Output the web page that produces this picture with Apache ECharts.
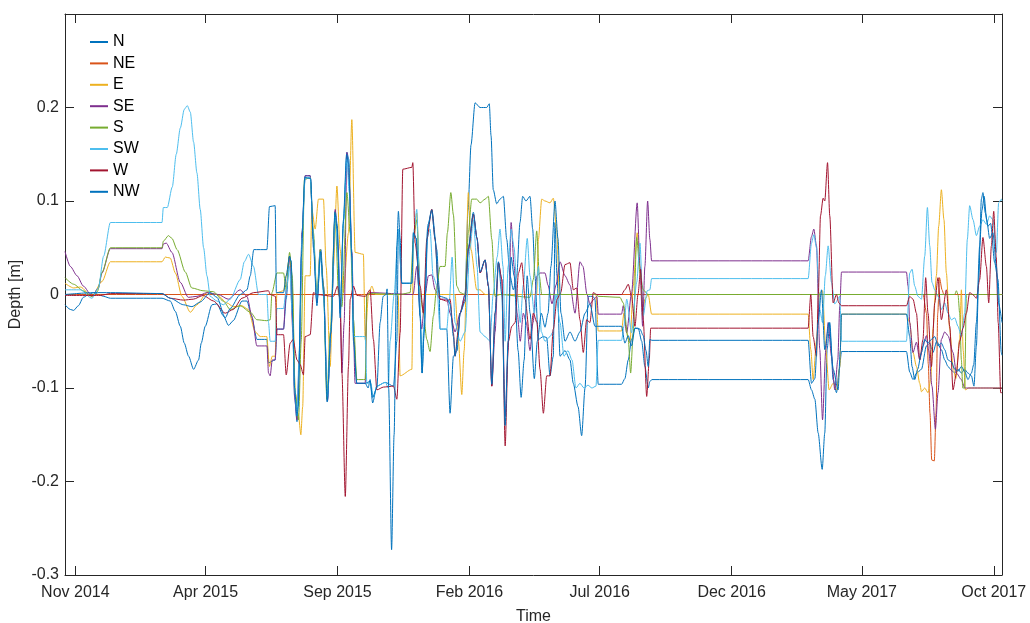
<!DOCTYPE html>
<html>
<head>
<meta charset="utf-8">
<script src="https://cdn.jsdelivr.net/npm/echarts@6/dist/echarts.min.js"></script>
<style>
  html, body { margin: 0; padding: 0; background: #fff; }
  #chart { width: 1030px; height: 623px; }
</style>
</head>
<body>
<div id="chart"></div>
<script>
// Water depth deviation per direction, [days since 2014-11-01, depth in m]
const depthN = [[-12,-0.011],[-5.8,-0.016],[-2,-0.017],[3.5,-0.012],[9.3,-0.003],[15.4,0.0],[21.2,0.002],[26.7,0.0],[32.8,-0.002],[40.6,-0.004],[100.5,-0.004],[110.1,-0.007],[115.9,-0.018],[121.7,-0.034],[126.3,-0.052],[131.3,-0.066],[137.1,-0.08],[142.9,-0.07],[146,-0.052],[150.6,-0.034],[158.4,-0.011],[164.2,-0.01],[171.8,-0.023],[177.6,-0.033],[183.1,-0.028],[193.2,-0.007],[199,-0.007],[204.7,-0.025],[210.5,-0.048],[222.1,-0.048],[224,-0.073],[231.7,-0.07],[233.7,-0.037],[241.4,-0.037],[244.5,-0.005],[248.4,0.041],[250.3,0.035],[252.3,-0.041],[254.2,-0.109],[257,-0.136],[259.6,-0.08],[262.8,0.066],[266.5,0.127],[272.3,0.127],[276.1,0.059],[280.1,-0.009],[284.7,0.048],[287.7,0.009],[292.3,-0.114],[296.3,-0.041],[301.3,0.089],[303.6,0.075],[307.1,-0.02],[311,0.08],[314.9,0.152],[317,0.145],[320.6,0.045],[322.5,-0.041],[326.4,-0.095],[336.1,-0.095],[339.5,-0.1],[341.8,-0.091],[344.7,-0.116],[349.6,-0.098],[359.2,-0.094],[368.9,-0.098],[372.8,-0.05],[374.6,0.07],[378.5,0.012],[390.2,0.012],[392,0.066],[395.2,0.06],[399.8,-0.023],[402.1,-0.084],[404.4,-0.04],[409,0.075],[413.3,0.091],[419.1,0.048],[421.7,0.009],[422.9,-0.037],[430.7,-0.037],[434.5,-0.127],[438.4,-0.066],[442.6,-0.06],[446.1,-0.02],[451.9,0.0],[455.3,0.09],[458.8,0.16],[463.5,0.205],[469.3,0.2],[477,0.2],[480,0.204],[482,0.17],[484.6,0.112],[488.6,0.097],[492.4,0.102],[496.3,0.105],[500.2,0.059],[504,0.02],[507.9,0.005],[511.8,0.02],[515.6,0.077],[518.7,0.105],[522.5,0.1],[527.2,0.105],[530.3,0.07],[532.9,0.02],[536.8,-0.048],[542.6,-0.045],[546.5,-0.046],[550.4,-0.087],[554.2,-0.066],[556.2,0.077],[558.5,0.02],[562,-0.066],[567.8,-0.06],[573.6,-0.07],[577.4,-0.095],[582.9,-0.12],[587.1,-0.151],[591,-0.1],[594.8,-0.002],[600.2,-0.002],[602.5,-0.005],[606.3,-0.096],[633.4,-0.096],[637.2,-0.09],[641.1,-0.07],[645,-0.048],[648.9,-0.036],[652.7,-0.036],[656.7,-0.05],[660.4,-0.077],[664.3,-0.1],[666.2,-0.093],[668.5,-0.091],[849.7,-0.091],[853.6,-0.102],[857.5,-0.112],[861.3,-0.148],[866,-0.187],[869,-0.148],[871.7,-0.059],[874.8,-0.03],[878.7,-0.091],[882.6,-0.105],[885.8,-0.08],[888.4,-0.061],[963.7,-0.061],[967.5,-0.083],[971.3,-0.091],[975.6,-0.084],[981.1,-0.08],[986.9,-0.055],[990.7,-0.052],[994.5,-0.062],[998.8,-0.05],[1004.2,-0.059],[1008.1,-0.07],[1011.9,-0.077],[1015.8,-0.081],[1019.7,-0.084],[1023.5,-0.08],[1027.4,-0.084],[1031.2,-0.08],[1035,-0.084],[1039,-0.087],[1042,-0.098],[1044.8,-0.055],[1047.5,0.016],[1050.6,0.102],[1052.4,0.109],[1055.2,0.087],[1058.2,0.073],[1061.3,0.076],[1066,0.034],[1069.8,0.016],[1073.7,-0.062],[1074.5,-0.065]];

const depthNE = [[-12,0],[983,0],[987,-0.02],[989,-0.074],[991,-0.127],[993,-0.177],[996,-0.178],[998,-0.127],[1000,-0.02],[1002,0.018],[1005,0.005],[1007,0],[1074.5,0]];

const depthE = [[-12,0.012],[-2,0.007],[6,0.008],[19,-0.002],[31,0.014],[40.6,0.035],[100.5,0.035],[104.3,0.04],[110,0.039],[116,0.023],[123.6,-0.002],[133.3,-0.019],[141,-0.011],[152.6,0.002],[164,0.0],[175.8,-0.009],[183,-0.013],[193,-0.012],[200.5,-0.016],[208.6,-0.04],[214.4,-0.045],[222,-0.045],[225,-0.077],[228.3,-0.066],[231.7,-0.066],[233.7,0.002],[241.4,0.004],[244.5,0.02],[248.4,0.041],[251.5,0.01],[254.9,-0.105],[258.8,-0.13],[261.5,-0.15],[263.6,-0.12],[266.5,0.02],[272.3,0.02],[274.2,0.091],[278.1,0.07],[281.9,0.102],[287.7,0.102],[290.8,0.03],[295.5,-0.077],[299.3,0.03],[303.3,0.116],[307.1,0.048],[310.9,0.002],[316.7,0.066],[320.6,0.187],[324.4,0.045],[334,0.043],[336.1,-0.048],[339.9,0.0],[343.8,0.009],[347.6,0.0],[374.3,0.0],[376.6,-0.087],[390.2,-0.08],[392,0.059],[395.9,0.087],[399.8,0.0],[440.3,0.0],[444.2,-0.05],[448.1,-0.107],[450.8,-0.06],[455.7,0.109],[458.8,0.048],[465.4,0.005],[469.3,0.005],[475.1,0.0],[535,0.0],[536.9,0.059],[540.8,0.102],[544.6,0.1],[550.4,0.098],[554.2,0.103],[558.2,0.069],[561.2,0.002],[564.3,0.0],[603.7,0.0],[606.3,-0.039],[633.4,-0.039],[636.1,-0.02],[639.3,-0.041],[643.1,-0.052],[646.9,0.009],[651.5,0.066],[654.7,0.03],[657.8,-0.023],[660.4,-0.005],[664.3,0.0],[668.2,-0.021],[849.7,-0.021],[852.8,-0.059],[855.5,-0.091],[859.4,-0.05],[863.2,0.002],[866.4,0.004],[870.2,-0.059],[874,-0.102],[878.7,-0.095],[883.3,-0.102],[886.4,-0.077],[888.4,-0.021],[963.7,-0.021],[967.5,-0.03],[971.3,-0.062],[975.3,-0.077],[979.1,-0.095],[981.1,-0.104],[984.9,-0.1],[988.7,-0.105],[991.9,-0.091],[994.5,-0.037],[998.4,0.02],[1001.1,0.073],[1004.2,0.112],[1007.2,0.08],[1010,0.023],[1013.9,-0.037],[1017.7,-0.077],[1020.9,-0.09],[1025.4,-0.048],[1027.4,0.005],[1029.5,-0.06],[1032,-0.102],[1035.9,-0.1],[1074.5,-0.1]];

const depthSE = [[-12,0.046],[-5.8,0.03],[2,0.02],[9.3,0.009],[19.3,-0.002],[26.7,0.007],[30.9,0.023],[40.6,0.049],[100.5,0.049],[102,0.054],[105.4,0.055],[112,0.045],[121.7,0.013],[130.9,-0.003],[141,-0.002],[152.6,0.002],[165.7,0.0],[177.3,-0.005],[191.2,0.005],[199,-0.002],[204.7,-0.023],[210.5,-0.055],[222.1,-0.055],[224,-0.084],[225.9,-0.087],[228.3,-0.07],[231.7,-0.07],[233.7,-0.037],[241.4,-0.037],[244.5,0.005],[248.4,0.041],[252.3,-0.041],[254.2,-0.109],[257,-0.134],[259.6,-0.07],[262.8,0.066],[266.5,0.127],[272.3,0.127],[276.1,0.059],[280.1,-0.009],[283.9,0.048],[287.7,0.009],[292.3,-0.114],[296.3,-0.041],[301.3,0.091],[304.8,0.05],[307.1,-0.02],[309.1,-0.084],[311.7,-0.03],[314.9,0.152],[317.5,0.12],[320.6,0.045],[324.4,-0.095],[336.1,-0.095],[338,0.0],[341.8,0.002],[391.7,0.0],[395.9,0.03],[401.6,-0.037],[405.5,0.0],[409.4,0.02],[413.3,0.021],[417.1,0.005],[422.9,-0.005],[430.7,-0.005],[434.5,-0.02],[440.3,-0.04],[446.1,-0.02],[451.9,0.0],[455.7,0.048],[461.5,0.086],[465.8,0.06],[469.3,0.023],[475.1,0.037],[478.9,0.009],[482.9,-0.098],[486.7,-0.04],[490.6,0.034],[494.5,0.016],[498.4,-0.13],[501.8,-0.06],[505.3,0.077],[508.8,0.03],[512.3,-0.02],[515.9,-0.05],[519.4,-0.02],[522.9,-0.03],[527.2,-0.06],[530.7,-0.03],[535.3,0.02],[538.8,0.023],[544.6,0.023],[548.1,0.01],[552.7,-0.01],[557.3,0.01],[562,0.035],[567.8,0.02],[573.6,0.01],[579.4,-0.02],[585.1,0.035],[588.6,0.03],[593.3,0.0],[596.7,-0.01],[601.4,-0.005],[604.8,-0.002],[606.3,-0.021],[633.4,-0.021],[635.3,-0.012],[639.3,-0.041],[645,0.002],[651.5,0.098],[654.7,0.03],[657.8,-0.034],[660.4,0.03],[663.6,0.1],[666.2,0.059],[668.2,0.036],[849.7,0.036],[853.6,0.062],[856.3,0.07],[859.4,0.052],[863.2,-0.059],[866.4,-0.134],[870.2,-0.059],[872.9,-0.03],[876.8,-0.066],[880.6,-0.102],[884.1,-0.07],[886.4,-0.012],[888.4,0.024],[963.7,0.024],[965.6,0.009],[967.5,-0.03],[971.3,-0.062],[975.3,-0.051],[979.1,-0.07],[982.9,-0.055],[986.9,-0.044],[989.5,-0.06],[993.3,-0.098],[997.3,-0.144],[1000.3,-0.105],[1004.2,-0.048],[1008.1,-0.04],[1011.9,-0.044],[1017.7,-0.062],[1021.6,-0.084],[1027.4,-0.091],[1031.2,-0.1],[1074.5,-0.1]];

const depthS = [[-12,0.018],[-2,0.011],[9,0.004],[19,-0.002],[25.5,0.003],[31,0.024],[40.6,0.05],[100.5,0.05],[102,0.057],[108,0.063],[112,0.06],[118,0.048],[127.5,0.024],[135,0.007],[148,0.004],[160,0.003],[171.5,-0.007],[179.6,-0.016],[191,-0.012],[203,-0.019],[210.5,-0.027],[222,-0.028],[226,-0.027],[228,0.002],[233.7,0.023],[241.4,0.023],[244.5,0.005],[248.4,0.045],[251.5,0.02],[254.9,-0.105],[258.8,-0.134],[261.9,-0.05],[265.7,0.123],[272.3,0.125],[276.1,0.066],[280.1,0.0],[283.9,0.048],[287.7,0.009],[291.6,-0.112],[295.5,-0.041],[301.3,0.087],[305.2,0.0],[309.1,-0.013],[314.9,0.109],[318.7,0.066],[322.5,-0.027],[326.4,-0.091],[336.1,-0.091],[338,0.0],[341.8,0.001],[376.6,0.0],[388.2,0.002],[392,0.059],[395.9,0.08],[399.8,0.0],[403.6,-0.02],[407.5,-0.048],[411.3,-0.061],[415.2,-0.023],[419.1,0.009],[422.9,0.03],[428.7,0.03],[431.4,0.066],[435.4,0.109],[438.4,0.085],[442.3,0.009],[446.1,0.002],[451.9,0.0],[455.7,0.066],[459.6,0.102],[465.4,0.102],[469.3,0.098],[475.1,0.102],[478.9,0.105],[482.9,0.059],[486.7,-0.002],[492.4,0.0],[527.2,-0.003],[531,0.016],[535,0.068],[538,0.02],[540.8,0.0],[604.8,0.0],[606.3,-0.002],[631.5,-0.003],[635.3,-0.009],[641.1,-0.048],[643.9,-0.084],[646.9,-0.041],[650.9,0.061],[654.7,0.023],[658.5,0.005],[664,0.0],[1019.7,0.0],[1021.6,0.004],[1023.5,0.0],[1025.4,-0.02],[1027.4,-0.07],[1029,-0.1],[1031.2,-0.1],[1033.2,0.0],[1074.5,0.0]];

const depthSW = [[-12,0.005],[5.8,0.005],[19.3,-0.004],[26.7,0.007],[32.8,0.041],[40.6,0.077],[100.5,0.077],[102,0.093],[106.6,0.093],[112.4,0.115],[117,0.15],[121.7,0.178],[126.3,0.198],[129.8,0.202],[133.3,0.195],[137.1,0.163],[141,0.13],[144.8,0.091],[148.7,0.05],[152.6,0.02],[156.4,-0.002],[164.2,-0.007],[171.5,-0.011],[179.6,-0.005],[191.2,0.016],[195.9,0.035],[200.8,0.043],[206.6,0.03],[212.4,0.0],[222.1,0.0],[224,-0.03],[225.9,-0.05],[231.7,-0.05],[233.7,-0.015],[241.4,-0.015],[244.5,0.005],[248.4,0.03],[251.5,-0.02],[254.2,-0.1],[257,-0.13],[259.6,-0.06],[262.8,0.06],[266.5,0.125],[272.3,0.125],[276.1,0.06],[280.1,-0.005],[283.9,0.045],[287.7,0.0],[292.3,-0.11],[296.3,-0.04],[301.3,0.085],[304.8,0.04],[307.1,-0.02],[311,0.08],[314.9,0.145],[317.5,0.11],[320.6,0.04],[322.5,-0.045],[336.1,-0.045],[338,-0.095],[342.6,-0.095],[345.6,-0.11],[349.6,-0.098],[359.5,-0.094],[363,-0.1],[365,-0.05],[369.6,0.0],[374.6,0.07],[378.5,0.012],[390.2,0.012],[392.9,0.07],[395.9,0.091],[398.6,0.03],[401.6,-0.077],[404.3,-0.03],[407.8,0.06],[411.3,0.07],[414.8,0.02],[419.1,0.01],[422.9,-0.037],[430.7,-0.037],[433.4,-0.01],[436.9,0.04],[440.3,-0.03],[446.1,-0.05],[451.9,-0.04],[457.7,0.05],[461.5,0.08],[465.8,0.03],[469.3,-0.04],[475.1,-0.045],[480.9,-0.05],[484.4,0.0],[489.1,0.04],[492.4,0.07],[495.9,0.03],[498.4,-0.05],[501.8,0.03],[505.3,0.07],[508.8,0.05],[512.3,0.0],[515.9,-0.03],[519.4,0.01],[524,0.06],[527.2,0.02],[532.2,-0.02],[536.9,0.03],[540.3,-0.04],[544.6,-0.05],[550.4,-0.045],[553.9,-0.04],[557.3,0.0],[562,-0.03],[566.6,-0.066],[571.2,-0.06],[575.9,-0.07],[580.5,-0.1],[585.1,-0.095],[589.8,-0.1],[594.4,-0.097],[599,-0.1],[603.7,-0.098],[606.3,-0.049],[633.4,-0.049],[636.1,-0.034],[639.3,-0.005],[645,-0.041],[650.9,0.013],[654.7,0.055],[658.5,-0.023],[663.1,0.004],[666.2,0.005],[668.2,0.017],[849.7,0.017],[853.6,0.055],[856.3,0.064],[859.4,0.05],[863.2,-0.016],[866.4,-0.03],[869.6,0.02],[872.9,0.052],[876.8,0.013],[880.6,-0.01],[886.4,-0.002],[888.4,-0.05],[963.7,-0.05],[967.5,0.023],[970.2,0.027],[973.3,0.009],[977.1,-0.002],[981.1,-0.005],[984.9,0.041],[988,0.093],[990.7,0.052],[993.3,0.013],[996.5,0.005],[1000.3,-0.002],[1004.2,-0.016],[1008.1,-0.009],[1011.9,-0.02],[1015.8,-0.027],[1019.7,-0.025],[1023.5,-0.034],[1027.4,-0.045],[1031.2,-0.02],[1034.3,0.059],[1037,0.095],[1040.9,0.08],[1044.8,0.063],[1048.6,0.073],[1052.4,0.08],[1056.4,0.075],[1060.2,0.084],[1064,0.08],[1068,0.045],[1070.6,0.098],[1073.7,0.102],[1074.5,0.1]];

const depthW = [[-12,-0.001],[29,-0.001],[40.6,0.001],[100.5,0.001],[110,-0.004],[125.5,-0.006],[136.7,-0.005],[148.3,-0.001],[160.2,-0.007],[173.8,-0.02],[183.1,-0.016],[193.2,-0.004],[206.6,0.002],[224,0.004],[226,0.0],[232.1,-0.002],[233.7,-0.043],[241.4,-0.043],[244.5,-0.086],[249.1,-0.052],[252.6,-0.048],[257,-0.07],[260.7,-0.075],[264.5,-0.086],[266.5,-0.045],[272.3,-0.043],[276.1,0.002],[280.1,0.0],[299.3,-0.002],[304,0.009],[307.1,-0.005],[309.1,-0.084],[313,-0.216],[316.7,-0.077],[318.7,-0.005],[322.5,0.009],[326.4,-0.001],[336.1,-0.002],[341.8,0.005],[345.6,-0.048],[349.6,-0.102],[357.3,-0.099],[368.9,-0.098],[372.8,-0.112],[376.6,-0.041],[379.7,0.134],[390.2,0.136],[391.3,0.141],[394,0.055],[399.8,0.009],[403.6,-0.02],[407.5,0.059],[413.3,0.091],[417.1,0.059],[421,0.005],[422.9,-0.005],[430.7,-0.007],[434.5,-0.005],[438.4,-0.041],[440.3,-0.066],[443.8,-0.04],[446.1,-0.02],[451.9,-0.005],[455.7,0.048],[461.5,0.086],[465.8,0.06],[469.3,0.023],[475.1,0.037],[478.9,0.009],[482.9,-0.098],[486.7,-0.02],[490.6,0.034],[494.5,0.016],[498.4,-0.162],[502.1,-0.05],[506.1,-0.034],[509.9,-0.03],[513.8,0.023],[517.6,0.034],[521.5,-0.005],[527.2,-0.048],[531,-0.02],[535.3,-0.03],[538.8,-0.08],[542.7,-0.127],[546.6,-0.087],[550.4,-0.087],[554.2,-0.037],[558.5,-0.005],[562.8,0.002],[567.8,0.032],[573.6,0.034],[577.4,0.005],[581.3,0.007],[585.1,-0.027],[589,-0.062],[592.9,-0.027],[596.7,-0.03],[600.6,0.002],[604.5,0.0],[633.4,0.0],[637.2,0.005],[641.1,0.011],[645,-0.002],[648.9,-0.034],[652.4,0.0],[655.5,0.027],[658.5,-0.027],[662.5,-0.109],[665.5,-0.07],[667.1,-0.036],[849.7,-0.036],[852.8,0.0],[855.5,-0.045],[859.4,-0.066],[861.5,0.0],[864,0.084],[867.1,0.103],[869,0.1],[872.2,0.141],[874.8,0.084],[878.7,-0.009],[882.6,0.0],[885.3,-0.009],[888.4,-0.012],[963.7,-0.012],[967.5,-0.002],[971.3,-0.005],[975.3,-0.02],[979.1,-0.07],[982.9,-0.048],[986,0.018],[988.7,-0.02],[992.7,-0.077],[996.5,-0.009],[1000.3,0.018],[1004.2,-0.027],[1010,0.005],[1013.9,-0.034],[1017.7,-0.102],[1021.6,-0.084],[1025.4,-0.05],[1029.3,-0.036],[1033.2,-0.02],[1037,0.002],[1040.5,0.0],[1044.8,-0.004],[1048.6,0.016],[1052.4,0.061],[1056.4,0.03],[1059.1,-0.009],[1062.2,0.052],[1064.9,0.089],[1067.8,0.04],[1070.1,-0.03],[1073,-0.105],[1074.5,-0.105]];

const depthNW = [[-12,0.0],[21.2,0.002],[40.6,0.002],[100.5,0.001],[110.1,-0.004],[125.5,-0.011],[135.2,-0.013],[144.8,-0.008],[156.4,0.002],[164.2,-0.003],[173.8,-0.025],[179.6,-0.015],[191.2,0.0],[199,0.005],[202.8,0.02],[206.9,0.048],[222.1,0.048],[225.1,0.094],[231.7,0.095],[233.1,0.002],[241.4,0.002],[244.5,0.02],[248.4,0.041],[250.3,0.035],[252.3,-0.03],[254.2,-0.1],[257,-0.13],[258.4,-0.12],[262,0.04],[266,0.125],[272.9,0.124],[276.1,0.05],[280.1,-0.012],[284.3,0.046],[287.7,0.005],[292,-0.115],[296.3,-0.04],[301,0.088],[303.6,0.07],[307.1,-0.025],[310.6,0.075],[314.5,0.15],[316.8,0.14],[320.6,0.04],[322.5,-0.05],[326.4,-0.095],[336.1,-0.095],[341.8,-0.093],[344.7,-0.11],[349.6,-0.1],[353.4,-0.03],[356.9,-0.002],[360.3,0.0],[361.5,0.006],[363.3,-0.1],[366.7,-0.273],[369.6,-0.15],[372.8,0.052],[374.6,0.089],[376.6,0.06],[378.5,0.012],[390.2,0.012],[392,0.066],[395.2,0.06],[399.8,-0.023],[402.1,-0.084],[404.4,-0.04],[408.4,0.07],[413.3,0.09],[417.1,0.06],[421,0.005],[422.9,-0.002],[430.7,-0.004],[434.5,-0.01],[438.4,-0.045],[440.3,-0.066],[443.8,-0.045],[446.1,-0.02],[451.9,-0.008],[455.7,0.05],[461.5,0.088],[465.8,0.06],[469.3,0.024],[475.1,0.037],[478.9,0.01],[482.9,-0.096],[486.7,-0.02],[490.6,0.035],[494.5,0.0],[498.4,-0.14],[501.8,-0.05],[505.3,0.04],[508.8,0.02],[513.4,-0.06],[516.9,-0.11],[520.4,-0.07],[523.9,0.02],[527.3,-0.02],[532.2,-0.09],[535.7,-0.05],[540.3,-0.02],[544.6,-0.035],[548.1,-0.02],[551.5,0.03],[556.2,0.1],[559.6,0.06],[563.1,-0.02],[567.8,-0.05],[573.6,-0.04],[579.4,-0.05],[585.1,-0.04],[591,-0.02],[596.7,-0.01],[602.5,-0.034],[633.4,-0.034],[637.2,-0.052],[641.1,-0.044],[645,-0.055],[648.9,-0.036],[654.7,-0.037],[658.5,-0.044],[661.7,-0.06],[664.3,-0.077],[666.2,-0.048],[668.5,-0.049],[849.7,-0.049],[853.6,-0.095],[857.5,-0.09],[861.3,-0.03],[865.2,0.005],[869,-0.059],[874,-0.03],[878.7,-0.08],[884.5,-0.102],[887,-0.06],[888.4,-0.021],[963.7,-0.021],[967.5,-0.045],[970.2,-0.077],[973.3,-0.091],[976.7,-0.08],[981.1,-0.062],[984.9,-0.048],[988.4,-0.052],[992.7,-0.048],[996.5,-0.045],[1000.3,-0.055],[1004.2,-0.052],[1008.1,-0.059],[1011.9,-0.07],[1015.8,-0.072],[1019.7,-0.08],[1023.5,-0.082],[1027.4,-0.077],[1031.2,-0.082],[1035,-0.091],[1039,-0.084],[1041.7,-0.075],[1044.8,-0.03],[1048.6,0.052],[1051.3,0.09],[1053.8,0.105],[1056.7,0.08],[1060.2,0.06],[1064,0.066],[1068,0.03],[1070.6,-0.01],[1074.5,-0.03]];

const seriesNames = ['N', 'NE', 'E', 'SE', 'S', 'SW', 'W', 'NW'];
const seriesData = [depthN, depthNE, depthE, depthSE, depthS, depthSW, depthW, depthNW];
const seriesColors = ['#0072BD', '#D95319', '#EDB120', '#7E2F8E', '#77AC30', '#4DBEEE', '#A2142F', '#0072BD'];

const tickDates = ['2014-11-01', '2015-04-01', '2015-09-01', '2016-02-01', '2016-07-01', '2016-12-01', '2017-05-01', '2017-10-01'];
const tickLabels = ['Nov 2014', 'Apr 2015', 'Sep 2015', 'Feb 2016', 'Jul 2016', 'Dec 2016', 'May 2017', 'Oct 2017'];
const yTicks = [-0.3, -0.2, -0.1, 0, 0.1, 0.2, 0.3];

const DAY = 86400000;
const T0 = Date.UTC(2014, 10, 1);
const toTime = d => T0 + d * DAY;
const tickTimes = tickDates.map(s => Date.parse(s + 'T00:00:00Z'));

const AXIS = '#262626';
const FONT = 'Liberation Sans, Arial, sans-serif';

const xMin = toTime(-12);
const xMax = toTime(1074.5);

const chart = echarts.init(document.getElementById('chart'), null, { renderer: 'canvas' });

// Time runs on a numeric axis (ms since epoch) so that ticks sit on the 1st of each labelled month
function xAxisCfg(pos, showLabels) {
  return {
    type: 'value',
    position: pos,
    min: xMin,
    max: xMax,
    scale: true,
    axisLine: { show: true, onZero: false, lineStyle: { color: AXIS, width: 1 } },
    axisTick: { show: true, inside: true, length: 9, customValues: tickTimes, lineStyle: { color: AXIS } },
    axisLabel: {
      show: showLabels,
      customValues: tickTimes,
      color: AXIS,
      fontFamily: FONT,
      fontSize: 16,
      margin: 10,
      showMinLabel: true,
      showMaxLabel: true,
      formatter: v => {
        let best = 0;
        for (let i = 1; i < tickTimes.length; i++) {
          if (Math.abs(tickTimes[i] - v) < Math.abs(tickTimes[best] - v)) best = i;
        }
        return tickLabels[best];
      }
    },
    splitLine: { show: false },
    name: showLabels ? 'Time' : '',
    nameLocation: 'middle',
    nameGap: 34,
    nameTextStyle: { color: AXIS, fontFamily: FONT, fontSize: 16 }
  };
}

function yAxisCfg(pos, showLabels) {
  return {
    type: 'value',
    position: pos,
    min: -0.3,
    max: 0.3,
    interval: 0.1,
    axisLine: { show: true, onZero: false, lineStyle: { color: AXIS, width: 1 } },
    axisTick: { show: true, inside: true, length: 9, customValues: yTicks, lineStyle: { color: AXIS } },
    axisLabel: {
      show: showLabels,
      customValues: yTicks.slice(0, 6),
      color: AXIS,
      fontFamily: FONT,
      fontSize: 16,
      margin: 6,
      formatter: v => {
        const r = Math.round(v * 10) / 10;
        return r === 0 ? '0' : r.toFixed(1);
      }
    },
    splitLine: { show: false },
    name: showLabels ? 'Depth [m]' : '',
    nameLocation: 'middle',
    nameGap: 41,
    nameMoveOverlap: false,
    nameTextStyle: { color: AXIS, fontFamily: FONT, fontSize: 16 }
  };
}

const option = {
  animation: false,
  backgroundColor: '#ffffff',
  grid: { left: 65, right: 28, top: 14, bottom: 48, containLabel: false, outerBoundsMode: 'none' },
  xAxis: [xAxisCfg('bottom', true), xAxisCfg('top', false)],
  yAxis: [yAxisCfg('left', true), yAxisCfg('right', false)],
  legend: {
    data: seriesNames,
    orient: 'vertical',
    left: 90,
    top: 34,
    padding: 0,
    icon: 'rect',
    itemWidth: 18,
    itemHeight: 2,
    itemGap: 5.4,
    textStyle: { color: '#000', fontFamily: FONT, fontSize: 16, lineHeight: 16 },
    selectedMode: false
  },
  series: seriesNames.map((name, i) => ({
    name,
    type: 'line',
    xAxisIndex: 0,
    yAxisIndex: 0,
    data: seriesData[i].map(p => [toTime(p[0]), p[1]]),
    showSymbol: false,
    symbol: 'none',
    smooth: 0.25,
    smoothMonotone: 'x',
    color: seriesColors[i],
    lineStyle: { width: 1, color: seriesColors[i] },
    emphasis: { disabled: true }
  }))
};

chart.setOption(option);
</script>
</body>
</html>
